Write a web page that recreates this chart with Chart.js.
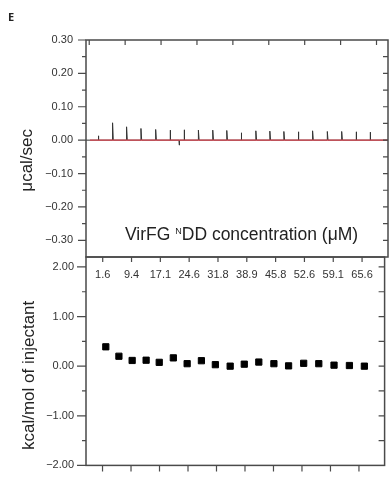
<!DOCTYPE html>
<html lang="en">
<head>
  <meta charset="UTF-8" />
  <title>ITC - VirFG NDD</title>
  <script src="https://cdn.jsdelivr.net/npm/chart.js"></script>
  <style>
    body { margin: 0; background: #fff; font-family: "Liberation Sans", Arial, sans-serif; }
    #wrap { position: relative; width: 390px; height: 484px; }
    #wrap canvas { position: absolute; left: 0; top: 0; }
    .tag { position: absolute; left: 8px; top: 11px; font: bold 11px/11px "Open Sans", sans-serif; color: #222; }
    .caption { position: absolute; left: 125px; top: 225px; font-size: 17.5px; line-height: 19px; color: #222; white-space: nowrap; }
    .caption .sup { font-size: 9px; position: relative; top: -6px; }
  </style>
</head>
<body>
  <div id="wrap">
    <canvas id="rawChart" width="390" height="484"></canvas>
    <canvas id="fitChart" width="390" height="484"></canvas>
    <div class="tag">E</div>
    <div class="caption">VirFG <span class="sup">N</span>DD concentration (μM)</div>
  </div>

  <script>
    // raw titration trace (upper panel), time in minutes
    const spikeTime   = [2.5, 6.5, 10.4, 14.4, 18.5, 22.5, 25.0, 26.4, 30.4, 34.4, 38.3, 42.3, 46.4, 50.3, 54.2, 58.2, 62.2, 66.3, 70.3, 74.3, 78.2];
    const spikeHeight = [0.013, 0.052, 0.040, 0.035, 0.032, 0.030, -0.015, 0.031, 0.030, 0.030, 0.029, 0.022, 0.028, 0.027, 0.026, 0.025, 0.028, 0.026, 0.026, 0.025, 0.024];
    const timeStart = -0.9, timeEnd = 83.2;
    const timeTicks = [0, 10, 20, 30, 40, 50, 60, 70, 80];
    const rawYTicks = [0.30, 0.20, 0.10, 0.00, -0.10, -0.20, -0.30];

    // integrated heats (lower panel)
    const injX   = [1.23, 2.15, 3.08, 4.06, 4.98, 5.97, 6.94, 7.94, 8.92, 9.96, 10.95, 11.97, 13.03, 14.06, 15.12, 16.18, 17.25, 18.33, 19.38];
    const injHeat = [0.39, 0.20, 0.115, 0.12, 0.077, 0.167, 0.05, 0.11, 0.03, 0.0, 0.04, 0.083, 0.05, 0.006, 0.058, 0.05, 0.02, 0.013, 0.0];
    const concTicks  = [1, 3, 5, 7, 9, 11, 13, 15, 17, 19];
    const concLabels = ['1.6', '9.4', '17.1', '24.6', '31.8', '38.9', '45.8', '52.6', '59.1', '65.6'];
    const heatYTicks = [2, 1, 0, -1, -2];

    Chart.defaults.font.family = '"Liberation Sans", Arial, sans-serif';
    Chart.defaults.color = '#333';

    const fmt = v => (v < 0 ? '\u2212' : '') + Math.abs(v).toFixed(2);
    const steps = (from, to, step) => {
      const out = [];
      for (let v = from; v <= to + 1e-9; v += step) out.push(Math.round(v * 100) / 100);
      return out;
    };

    // frame + tick marks (major/minor, in and out) drawn off the chart's own scales
    const frameTicks = {
      id: 'frameTicks',
      afterDraw(chart, args, opts) {
        const { ctx, chartArea: a } = chart;
        ctx.save();
        ctx.strokeStyle = '#4a4a4a';
        ctx.lineWidth = 1.5;
        ctx.strokeRect(a.left, a.top, a.width, a.height);
        ctx.lineWidth = 1.2;
        ctx.beginPath();
        for (const m of opts.marks) {
          const s = chart.scales[m.axis];
          for (const v of m.at) {
            const p = s.getPixelForValue(v);
            if (m.side === 'left')   { ctx.moveTo(a.left, p);   ctx.lineTo(a.left - m.len, p); }
            if (m.side === 'right')  { ctx.moveTo(a.right, p);  ctx.lineTo(a.right + m.len, p); }
            if (m.side === 'top')    { ctx.moveTo(p, a.top);    ctx.lineTo(p, a.top - m.len); }
            if (m.side === 'bottom') { ctx.moveTo(p, a.bottom); ctx.lineTo(p, a.bottom + m.len); }
          }
        }
        ctx.stroke();
        ctx.restore();
      }
    };

    // build the line for the raw trace from the injection peaks
    const trace = [{ x: timeStart, y: 0 }];
    spikeTime.forEach((t, i) => {
      trace.push({ x: t, y: 0 }, { x: t, y: spikeHeight[i] }, { x: t + 0.2, y: 0 });
    });
    trace.push({ x: timeEnd, y: 0 });

    new Chart('rawChart', {
      type: 'line',
      data: {
        datasets: [
          { data: [{ x: 0.2, y: 0 }, { x: timeEnd, y: 0 }], borderColor: '#d6454f', borderWidth: 1.3, pointRadius: 0 },
          { data: trace, borderColor: '#333', borderWidth: 1, pointRadius: 0, tension: 0 }
        ]
      },
      options: {
        responsive: false,
        animation: false,
        layout: { padding: { top: 40, right: 2, bottom: 197, left: 0 } },
        plugins: {
          legend: { display: false },
          tooltip: { enabled: false },
          frameTicks: {
            marks: [
              { axis: 'y', side: 'left', at: rawYTicks, len: 8 },
              { axis: 'y', side: 'left', at: [0.25, 0.15, 0.05, -0.05, -0.15, -0.25], len: 4 },
              { axis: 'y', side: 'right', at: steps(-0.30, 0.25, 0.05), len: -5 },
              { axis: 'x', side: 'top', at: timeTicks, len: -5 },
              { axis: 'x2', side: 'bottom', at: concTicks, len: 5 }
            ]
          }
        },
        scales: {
          x: { type: 'linear', display: false, min: timeStart, max: timeEnd },
          x2: {
            type: 'linear', position: 'bottom', min: -0.16, max: 20.8,
            afterBuildTicks: s => { s.ticks = concTicks.map(v => ({ value: v })); },
            afterFit: s => { s.height = 30; },
            grid: { display: false, drawTicks: false },
            border: { display: false },
            ticks: { autoSkip: false, maxRotation: 0, padding: 11, font: { size: 11 }, color: '#333',
                     callback: v => concLabels[concTicks.indexOf(v)] }
          },
          y: {
            min: -0.35, max: 0.30,
            afterBuildTicks: s => { s.ticks = rawYTicks.map(v => ({ value: v })); },
            afterFit: s => { s.width = 86; },
            grid: { display: false, drawTicks: false },
            border: { display: false },
            ticks: { padding: 13, font: { size: 11 }, color: '#333', callback: fmt },
            title: { display: true, text: 'μcal/sec     ', color: '#222', font: { size: 17 }, padding: { top: 17, bottom: 0 } }
          }
        }
      },
      plugins: [frameTicks]
    });

    new Chart('fitChart', {
      type: 'scatter',
      data: {
        datasets: [{
          data: injX.map((x, i) => ({ x, y: injHeat[i] })),
          pointStyle: 'rect', pointRadius: 4.4, backgroundColor: '#000', borderColor: '#000', borderWidth: 1
        }]
      },
      options: {
        responsive: false,
        animation: false,
        layout: { padding: { top: 257, right: 2, bottom: 8, left: 0 } },
        plugins: {
          legend: { display: false },
          tooltip: { enabled: false },
          frameTicks: {
            marks: [
              { axis: 'y', side: 'left', at: heatYTicks, len: 9 },
              { axis: 'y', side: 'left', at: [1.5, 0.5, -0.5, -1.5], len: 4 },
              { axis: 'y', side: 'right', at: steps(-1.5, 2, 0.5), len: -6 },
              { axis: 'x', side: 'bottom', at: concTicks, len: 6 }
            ]
          }
        },
        scales: {
          x: { type: 'linear', display: false, min: -0.16, max: 20.8 },
          y: {
            min: -2, max: 2.2,
            afterBuildTicks: s => { s.ticks = heatYTicks.map(v => ({ value: v })); },
            afterFit: s => { s.width = 86; },
            grid: { display: false, drawTicks: false },
            border: { display: false },
            ticks: { padding: 12, font: { size: 11 }, color: '#333', callback: fmt },
            title: { display: true, text: 'kcal/mol of injectant      ', color: '#222', font: { size: 17 }, padding: { top: 19, bottom: 0 } }
          }
        }
      },
      plugins: [frameTicks]
    });
  </script>
</body>
</html>
